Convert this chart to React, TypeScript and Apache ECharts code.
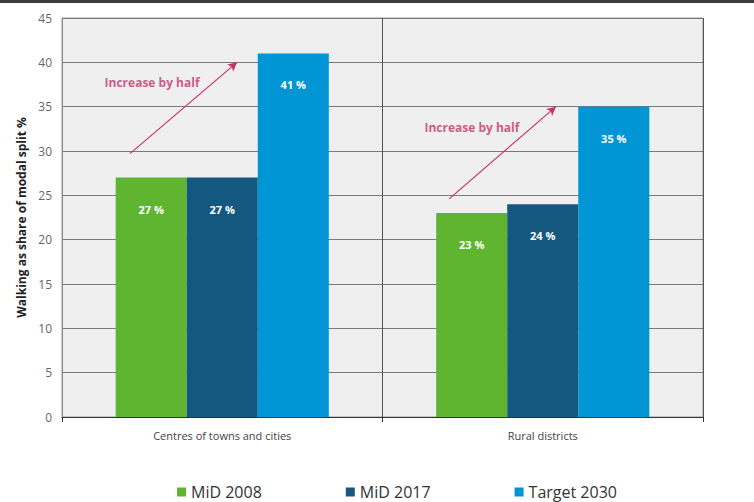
import React, { useEffect, useRef } from "react";
import * as echarts from "echarts";

const categories = ["Centres of towns and cities", "Rural districts"];
const mid2008 = [27, 23];
const mid2017 = [27, 24];
const target2030 = [41, 35];
const seriesNames = ["MiD 2008", "MiD 2017", "Target 2030"];
const yTicks = { min: 0, max: 45, interval: 5 };
// annotation arrows in (category-position, value) units
const arrows = [
  [[0.212, 29.7], [0.546, 40.0]],
  [[1.208, 24.6], [1.541, 35.0]],
];
const arrowTexts = [
  { x: 0.281, y: 37.7, text: "Increase by half" },
  { x: 1.279, y: 32.6, text: "Increase by half" },
];

const COLORS = ["#5fb530", "#15587f", "#0096d6"];
const ACCENT = "#c8306a";

export default function App() {
  const ref = useRef<HTMLDivElement>(null);
  useEffect(() => {
    if (!ref.current) return;
    const chart = echarts.init(ref.current, null, { renderer: "svg" });
    const barLabel = {
      show: true,
      position: "insideTop",
      distance: 26,
      color: "#ffffff",
      fontWeight: "bold",
      fontSize: 11,
      fontFamily: "Open Sans",
      formatter: (p: any) => `${p.value} %`,
    };
    const mkBar = (name: string, data: number[], color: string) => ({
      name,
      type: "bar",
      xAxisIndex: 0,
      data,
      barGap: "0%",
      barCategoryGap: "33.5%",
      itemStyle: { color },
      label: barLabel,
    });
    chart.setOption({
      animation: false,
      backgroundColor: "#ffffff",
      textStyle: { fontFamily: "Open Sans" },
      graphic: [
        {
          type: "rect",
          x: 0,
          y: 0,
          z: 100,
          shape: { x: 0, y: 0, width: 754, height: 3 },
          style: { fill: "#3c3c3c" },
        },
      ],
      legend: {
        data: seriesNames,
        left: 172,
        top: 479,
        itemWidth: 9,
        itemHeight: 9,
        itemGap: 84,
        icon: "rect",
        textStyle: { fontSize: 16, color: "#333333", fontFamily: "Open Sans" },
        selectedMode: false,
      },
      grid: {
        left: 62,
        right: 51,
        top: 18,
        bottom: 85,
        show: true,
        backgroundColor: "#efefef",
        borderColor: "#9a9a9a",
        borderWidth: 1,
      },
      xAxis: [
        {
          type: "category",
          data: categories,
          axisLine: { show: true, lineStyle: { color: "#333333", width: 1 } },
          axisTick: { show: true, length: 5, lineStyle: { color: "#333333" } },
          splitLine: { show: true, lineStyle: { color: "#555555", width: 1 } },
          axisLabel: { color: "#444444", fontSize: 11, margin: 13, fontFamily: "Open Sans" },
        },
        {
          type: "value",
          min: 0,
          max: 2,
          show: false,
          position: "top",
        },
      ],
      yAxis: {
        type: "value",
        min: yTicks.min,
        max: yTicks.max,
        interval: yTicks.interval,
        name: "Walking as share of modal split %",
        nameLocation: "middle",
        nameGap: 35,
        nameTextStyle: { fontWeight: "bold", fontSize: 12, color: "#222222", fontFamily: "Open Sans" },
        axisLine: { show: true, lineStyle: { color: "#8a8a8a" } },
        axisTick: { show: false },
        splitLine: { show: true, lineStyle: { color: "#7a7a7a", width: 1 } },
        axisLabel: { color: "#666666", fontSize: 12, margin: 10, fontFamily: "Open Sans" },
      },
      series: [
        mkBar(seriesNames[0], mid2008, COLORS[0]),
        mkBar(seriesNames[1], mid2017, COLORS[1]),
        mkBar(seriesNames[2], target2030, COLORS[2]),
        {
          name: "annotations",
          type: "scatter",
          xAxisIndex: 1,
          symbolSize: 0,
          silent: true,
          data: arrowTexts.map((t) => ({ value: [t.x, t.y], name: t.text })),
          label: {
            show: true,
            position: "inside",
            formatter: (p: any) => p.name,
            color: ACCENT,
            fontWeight: "bold",
            fontSize: 12,
            fontFamily: "Open Sans",
          },
          markLine: {
            silent: true,
            symbol: ["none", "arrow"],
            symbolSize: [7, 9],
            label: { show: false },
            lineStyle: { color: ACCENT, width: 1.2, type: "solid" },
            data: arrows.map((a) => [{ coord: a[0] }, { coord: a[1] }]),
          },
        },
      ],
    });
    return () => chart.dispose();
  }, []);
  return (
    <div
      ref={ref}
      style={{ position: "fixed", left: 0, top: 0, width: 754, height: 502 }}
    />
  );
}
